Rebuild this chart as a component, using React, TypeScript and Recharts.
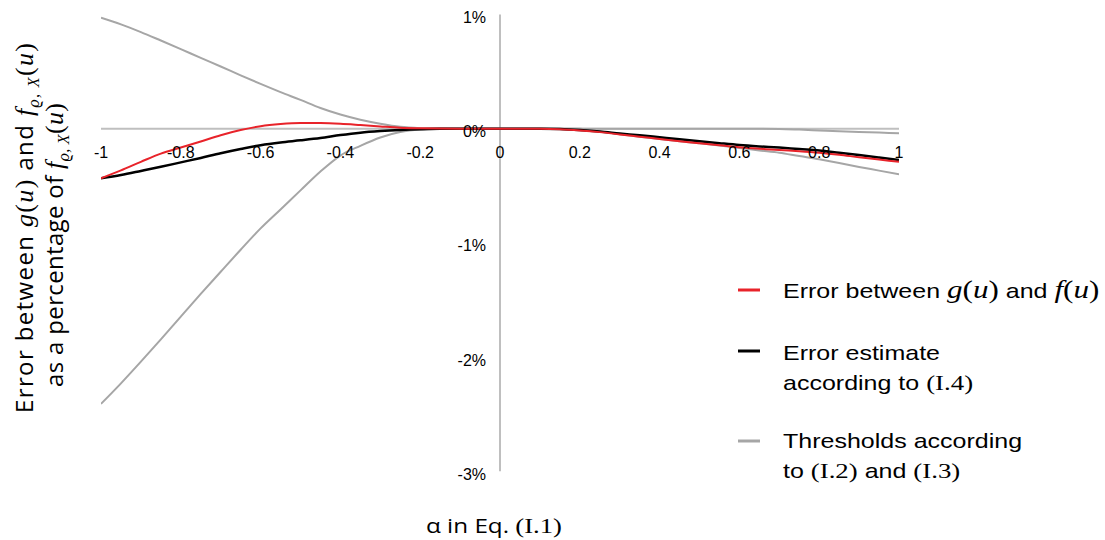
import React from 'react';
import { LineChart, Line, XAxis, YAxis, ReferenceLine, ReferenceDot, Legend } from 'recharts';

// alpha values (x)
const alphaValues = [
  -1, -0.95, -0.9, -0.85, -0.8, -0.75, -0.7, -0.65, -0.6, -0.55, -0.5, -0.45, -0.4, -0.35, -0.3, -0.25, -0.2, -0.15, -0.1, -0.05,
  0, 0.05, 0.1, 0.15, 0.2, 0.25, 0.3, 0.35, 0.4, 0.45, 0.5, 0.55, 0.6, 0.65, 0.7, 0.75, 0.8, 0.85, 0.9, 0.95, 1,
];
// error between g(u) and f(u), in percent
const errorGF = [
  -0.434, -0.365, -0.29, -0.218, -0.165, -0.112, -0.057, -0.012, 0.022, 0.041, 0.05, 0.049, 0.043, 0.032, 0.02, 0.009, 0.004, 0.001, 0, 0,
  0, 0, 0, -0.004, -0.015, -0.03, -0.05, -0.07, -0.09, -0.11, -0.128, -0.145, -0.163, -0.175, -0.187, -0.197, -0.21, -0.228, -0.25, -0.27, -0.29,
];
// error estimate according to (I.4), in percent
const errorEstimate = [
  -0.434, -0.405, -0.37, -0.334, -0.295, -0.256, -0.215, -0.178, -0.144, -0.12, -0.102, -0.082, -0.056, -0.035, -0.021, -0.011, -0.004, -0.001, 0, 0,
  0, 0, 0, -0.003, -0.012, -0.025, -0.042, -0.058, -0.075, -0.092, -0.11, -0.127, -0.143, -0.155, -0.165, -0.178, -0.19, -0.21, -0.23, -0.252, -0.275,
];
// upper threshold according to (I.2), in percent
const thresholdUpper = [
  0.972, 0.914, 0.846, 0.772, 0.697, 0.62, 0.545, 0.467, 0.392, 0.32, 0.252, 0.181, 0.124, 0.079, 0.044, 0.017, 0.005, 0.001, 0, 0,
  0, 0, 0, 0, 0, 0, 0, 0, 0, 0, 0, 0, 0, 0, -0.002, -0.008, -0.015, -0.022, -0.028, -0.034, -0.04,
];
// lower threshold according to (I.3), in percent
const thresholdLower = [
  -2.41, -2.23, -2.04, -1.845, -1.645, -1.447, -1.253, -1.06, -0.873, -0.707, -0.54, -0.375, -0.235, -0.15, -0.077, -0.029, -0.008, -0.002, 0, 0,
  0, 0, 0, 0, 0, -0.025, -0.048, -0.07, -0.09, -0.11, -0.128, -0.147, -0.168, -0.19, -0.21, -0.24, -0.268, -0.3, -0.335, -0.367, -0.4,
];

const xTickValues = [-1, -0.8, -0.6, -0.4, -0.2, 0, 0.2, 0.4, 0.6, 0.8, 1];
const xTickLabels = ['-1', '-0.8', '-0.6', '-0.4', '-0.2', '0', '0.2', '0.4', '0.6', '0.8', '1'];
const yTickValues = [1, 0, -1, -2, -3];
const yTickLabels = ['1%', '0%', '-1%', '-2%', '-3%'];

const data = alphaValues.map((a, i) => ({
  alpha: a,
  errGF: errorGF[i],
  est: errorEstimate[i],
  upper: thresholdUpper[i],
  lower: thresholdLower[i],
}));

const RED = '#E8232A';
const BLACK = '#000000';
const GRAY = '#A6A6A6';
const AXIS = '#BFBFBF';
const SANS = '"Liberation Sans", Arial, sans-serif';
const SERIF = '"Liberation Serif", "Times New Roman", serif';
const LABEL_FONT = '"Open Sans", Lato, sans-serif';
const SX = 1.22;

const center = (props: any) => {
  const vb = props.viewBox || {};
  return { cx: (vb.x || 0) + (vb.width || 0) / 2, cy: (vb.y || 0) + (vb.height || 0) / 2 };
};

const xTickLabel = (text: string) => (props: any) => {
  const { cx, cy } = center(props);
  return (
    <text x={cx} y={cy + 29} textAnchor="middle" fontFamily={SANS} fontSize={16} fill="#000">
      {text}
    </text>
  );
};

const yTickLabel = (text: string) => (props: any) => {
  const { cx, cy } = center(props);
  return (
    <text x={cx - 14} y={cy + 8.5} textAnchor="end" fontFamily={SANS} fontSize={16} fill="#000">
      {text}
    </text>
  );
};

const Math2 = ({ f }: { f: string }) => (
  <tspan fontFamily={SERIF} fontSize={25.5}>
    <tspan fontStyle="italic">{f}</tspan>(<tspan fontStyle="italic">u</tspan>)
  </tspan>
);

const Serif = ({ t }: { t: string }) => (
  <tspan fontFamily={SERIF} fontSize={22}>
    {t}
  </tspan>
);

const LText = ({ x, y, children }: { x: number; y: number; children: React.ReactNode }) => (
  <text transform={`translate(${x} ${y}) scale(${SX} 1)`} x={0} y={0} fontFamily={SANS} fontSize={20.5} fill="#000">
    {children}
  </text>
);

const legendRows: Record<string, { lineY: number; lines: { y: number; node: React.ReactNode }[] }> = {
  errGF: {
    lineY: 20,
    lines: [
      {
        y: 28,
        node: (
          <>
            <tspan>Error between </tspan>
            <Math2 f="g" />
            <tspan> and </tspan>
            <Math2 f="f" />
          </>
        ),
      },
    ],
  },
  est: {
    lineY: 81,
    lines: [
      { y: 90, node: <tspan>Error estimate</tspan> },
      {
        y: 120,
        node: (
          <>
            <tspan>according to </tspan>
            <Serif t="(I.4)" />
          </>
        ),
      },
    ],
  },
  upper: {
    lineY: 171,
    lines: [
      { y: 178, node: <tspan>Thresholds according</tspan> },
      {
        y: 208,
        node: (
          <>
            <tspan>to </tspan>
            <Serif t="(I.2)" />
            <tspan> and </tspan>
            <Serif t="(I.3)" />
          </>
        ),
      },
    ],
  },
};

const LegendContent = (props: any) => {
  const payload = (props.payload || []) as any[];
  return (
    <svg width={385} height={220} style={{ overflow: 'visible', display: 'block' }}>
      {payload.map((p: any) => {
        const key = String(p.dataKey);
        const row = legendRows[key];
        if (!row) return null;
        return (
          <g key={key}>
            <line x1={18} x2={40} y1={row.lineY} y2={row.lineY} stroke={p.color} strokeWidth={3} />
            {row.lines.map((l, i) => (
              <LText key={i} x={63} y={l.y}>
                {l.node}
              </LText>
            ))}
          </g>
        );
      })}
    </svg>
  );
};

const Sub = () => (
  <>
    <tspan fontFamily={SERIF} fontStyle="italic" fontSize={26}>f</tspan>
    <tspan fontFamily={SERIF} fontStyle="italic" fontSize={16} dy={6}>ϱ, X</tspan>
    <tspan fontFamily={SERIF} fontSize={26} dy={-6}>(<tspan fontStyle="italic">u</tspan>)</tspan>
  </>
);

export default function App() {
  return (
    <div style={{ position: 'absolute', left: 0, top: 0, width: 1105, height: 540, background: '#fff' }}>
      <LineChart width={1105} height={540} data={data} margin={{ top: 14.5, right: 206, bottom: 68.7, left: 101 }}>
        <XAxis type="number" dataKey="alpha" domain={[-1, 1]} hide allowDataOverflow />
        <YAxis type="number" domain={[-3, 1]} hide allowDataOverflow />
        <ReferenceLine x={0} stroke={AXIS} strokeWidth={2} ifOverflow="visible" />
        <ReferenceLine y={0} stroke={AXIS} strokeWidth={2} ifOverflow="visible" />
        <Line type="monotone" dataKey="upper" name="Thresholds" stroke={GRAY} strokeWidth={2} dot={false} isAnimationActive={false} />
        <Line type="monotone" dataKey="lower" name="Thresholds (lower)" stroke={GRAY} strokeWidth={2} dot={false} legendType="none" isAnimationActive={false} />
        <Line type="monotone" dataKey="est" name="Error estimate" stroke={BLACK} strokeWidth={2.5} dot={false} isAnimationActive={false} />
        <Line type="monotone" dataKey="errGF" name="Error between g(u) and f(u)" stroke={RED} strokeWidth={2} dot={false} isAnimationActive={false} />
        {xTickValues.map((v, i) => (
          <ReferenceDot key={'xt' + v} x={v} y={0} r={2} fill="none" stroke="none" ifOverflow="visible" label={xTickLabel(xTickLabels[i])} />
        ))}
        {yTickValues.map((v, i) => (
          <ReferenceDot key={'yt' + v} x={0} y={v} r={2} fill="none" stroke="none" ifOverflow="visible" label={yTickLabel(yTickLabels[i])} />
        ))}
        <Legend
          layout="horizontal"
          verticalAlign="middle"
          align="center"
          content={LegendContent}
          wrapperStyle={{ position: 'absolute', left: 720, top: 270, width: 385, height: 220 }}
        />
      </LineChart>
      <svg width={1105} height={540} style={{ position: 'absolute', left: 0, top: 0, pointerEvents: 'none' }}>
        <text
          transform={`translate(33 228) rotate(-90)`}
          x={0}
          y={0}
          textAnchor="middle"
          fontFamily={LABEL_FONT}
          fontSize={24}
          fill="#000"
          textLength={370}
          lengthAdjust="spacing"
        >
          <tspan>Error between </tspan>
          <tspan fontFamily={SERIF} fontSize={26}>
            <tspan fontStyle="italic">g</tspan>(<tspan fontStyle="italic">u</tspan>)
          </tspan>
          <tspan> and </tspan>
          <Sub />
        </text>
        <text
          transform={`translate(63 245) rotate(-90)`}
          x={0}
          y={0}
          textAnchor="middle"
          fontFamily={LABEL_FONT}
          fontSize={24}
          fill="#000"
          textLength={284}
          lengthAdjust="spacing"
        >
          <tspan>as a percentage of </tspan>
          <Sub />
        </text>
        <text
          x={494}
          y={533}
          textAnchor="middle"
          fontFamily={LABEL_FONT}
          fontSize={20}
          fill="#000"
          textLength={136}
          lengthAdjust="spacingAndGlyphs"
        >
          <tspan>α in Eq. </tspan>
          <tspan fontFamily={SERIF} fontSize={22}>(I.1)</tspan>
        </text>
      </svg>
    </div>
  );
}
